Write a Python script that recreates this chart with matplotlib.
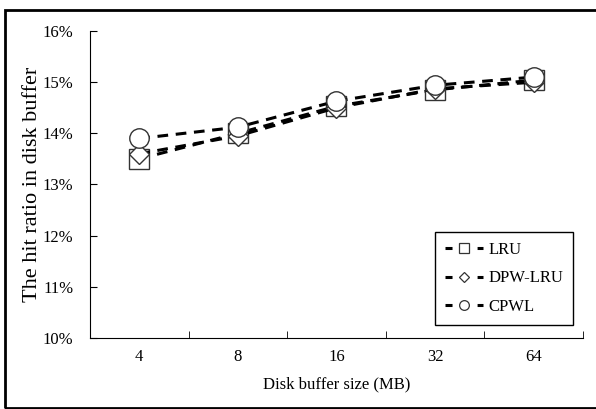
import numpy as np
import matplotlib.pyplot as plt
from matplotlib.lines import Line2D
from matplotlib.patches import Rectangle
from matplotlib.ticker import FuncFormatter

plt.rcParams['font.family'] = ['Liberation Serif', 'DejaVu Serif']

sizes = ['4', '8', '16', '32', '64']
lru = [13.5, 14.0, 14.53, 14.85, 15.04]
dpw_lru = [13.6, 13.95, 14.5, 14.87, 15.0]
cpwl = [13.9, 14.12, 14.63, 14.94, 15.1]

fig = plt.figure(figsize=(5.96, 4.09), dpi=100)
ax = fig.add_axes([0.151, 0.174, 0.827, 0.75])

x = np.arange(len(sizes))
series = [(lru, 's', 14, 'LRU'), (dpw_lru, 'D', 10, 'DPW-LRU'), (cpwl, 'o', 14, 'CPWL')]
handles = []
for vals, m, ms, name in series:
    ax.plot(x, vals, color='black', linestyle=(0, (3.5, 2.5)), linewidth=2.2,
            marker=m, markersize=ms, markerfacecolor='white',
            markeredgecolor='#333333', markeredgewidth=1.0)
    # legend proxy: short dash, marker, short dash
    handles.append(Line2D([], [], color='black', linewidth=2.2,
                          linestyle=(0, (2.3, 8.2)), marker=m,
                          markersize=ms * 0.5, markerfacecolor='white',
                          markeredgecolor='#333333', markeredgewidth=0.9,
                          label=name))

ax.set_xlim(-0.5, len(sizes) - 0.5)
ax.set_ylim(10, 16)
ax.set_yticks(np.arange(10, 17, 1))
ax.yaxis.set_major_formatter(FuncFormatter(lambda v, p: '%d%%' % v))
ax.set_xticks(x)
ax.set_xticklabels(sizes)
ax.set_xticks(np.arange(-0.5, len(sizes), 1), minor=True)
ax.tick_params(axis='x', which='major', length=0, labelsize=12, pad=8)
ax.tick_params(axis='x', which='minor', direction='in', length=5)
ax.tick_params(axis='y', direction='in', length=5, labelsize=12, pad=12)

ax.spines['top'].set_visible(False)
ax.spines['right'].set_visible(False)

ax.set_ylabel('The hit ratio in disk buffer', fontsize=16)
ax.yaxis.set_label_coords(-0.097, 0.5)
ax.set_xlabel('Disk buffer size (MB)', fontsize=12, labelpad=8)

leg = ax.legend(handles=handles, loc='lower right', bbox_to_anchor=(0.997, 0.015),
                fontsize=12, handlelength=2.3, labelspacing=0.75,
                borderpad=0.6, handletextpad=0.3, fancybox=False, framealpha=1)
leg.get_frame().set_edgecolor('black')
leg.get_frame().set_linewidth(1.0)

fig.patches.append(Rectangle((5 / 596, 1 / 409), 600 / 596, 398 / 409,
                             transform=fig.transFigure, fill=False,
                             edgecolor='black', linewidth=2.0))

fig.savefig('out.png', dpi=100)
